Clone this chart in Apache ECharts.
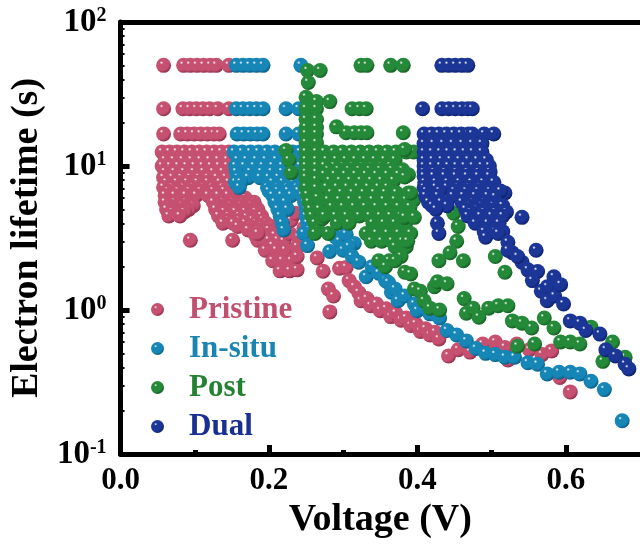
<!DOCTYPE html>
<html>
<head>
<meta charset="utf-8">
<script src="https://cdn.jsdelivr.net/npm/echarts@6/dist/echarts.min.js"></script>
<style>
  html, body { margin: 0; padding: 0; background: #ffffff; }
  #chart { width: 640px; height: 544px; }
</style>
</head>
<body>
<div id="chart"></div>
<script>
// Electron lifetime (s) versus voltage (V) for four device types.
const seriesNames = ['Pristine', 'In-situ', 'Post', 'Dual'];

const pristine = [
  [0.058,50],[0.085,50],[0.094,50],[0.103,50],[0.112,50],[0.121,50],[0.129,50],[0.146,50],
  [0.058,25],[0.084,25],[0.093,25],[0.102,25],[0.111,25],[0.120,25],[0.131,25],[0.146,25],
  [0.058,16.7],[0.081,16.7],[0.090,16.7],[0.099,16.7],[0.108,16.7],[0.117,16.7],[0.126,16.7],[0.133,16.7],
  [0.056,12.5],[0.066,12.5],[0.076,12.5],[0.086,12.5],[0.096,12.5],[0.106,12.5],[0.116,12.5],[0.126,12.5],[0.136,12.5],[0.146,12.5],
  [0.060,11],[0.072,11],[0.084,11],[0.096,11],[0.108,11],[0.120,11],[0.132,11],[0.144,11],
  [0.056,10],[0.067,10],[0.078,10],[0.089,10],[0.100,10],[0.111,10],[0.122,10],[0.133,10],[0.144,10],
  [0.060,9.1],[0.073,9.1],[0.086,9.1],[0.099,9.1],[0.112,9.1],[0.125,9.1],[0.138,9.1],
  [0.058,8.3],[0.070,8.3],[0.082,8.3],[0.094,8.3],[0.106,8.3],[0.118,8.3],[0.130,8.3],[0.142,8.3],
  [0.062,7.7],[0.076,7.7],[0.090,7.7],[0.104,7.7],[0.118,7.7],[0.134,7.7],[0.146,7.7],
  [0.058,7.1],[0.070,7.1],[0.085,7.1],[0.098,7.1],[0.112,7.1],[0.124,7.1],[0.138,7.1],[0.150,7.1],
  [0.064,6.7],[0.078,6.7],[0.093,6.7],[0.108,6.7],[0.125,6.7],[0.140,6.7],[0.155,6.7],
  [0.060,6.25],[0.073,6.25],[0.088,6.25],[0.102,6.25],[0.118,6.25],[0.132,6.25],[0.145,6.25],[0.168,6.0],
  [0.060,5.6],[0.073,5.6],[0.088,5.6],[0.125,5.6],[0.138,5.6],[0.152,5.6],[0.165,5.6],[0.180,5.6],[0.170,5.3],
  [0.066,5.3],[0.082,5.3],[0.098,5.3],[0.132,5.3],[0.148,5.3],[0.162,5.3],[0.176,5.3],
  [0.062,5.0],[0.076,5.0],[0.092,5.0],[0.128,5.0],[0.142,5.0],[0.156,5.0],[0.170,5.0],[0.185,5.0],
  [0.070,4.8],[0.086,4.8],[0.140,4.8],[0.155,4.8],[0.168,4.8],[0.182,4.8],
  [0.065,4.5],[0.080,4.5],[0.132,4.5],[0.146,4.5],[0.160,4.5],[0.175,4.5],[0.190,4.5],[0.170,4.4],
  [0.145,4.2],[0.160,4.2],[0.178,4.2],[0.192,4.2],
  [0.138,4.0],[0.152,4.0],[0.168,4.0],[0.182,4.0],[0.196,4.0],
  [0.158,3.8],[0.175,3.8],[0.190,3.8],[0.204,3.8],
  [0.172,3.6],[0.186,3.6],[0.200,3.6],
  [0.182,3.3],[0.196,3.3],[0.208,3.3],
  [0.094,3.05],[0.151,3.05],[0.185,3.05],[0.200,3.05],[0.212,3.05],
  [0.185,3.4],[0.205,2.8],[0.215,2.4],[0.225,2.05],[0.232,2.5],[0.220,3.0],[0.228,3.4],[0.240,3.2],[0.245,2.9],[0.234,1.95],
  [0.195,2.6],[0.210,2.6],[0.222,2.6],
  [0.205,2.2],[0.218,2.2],[0.230,2.2],
  [0.215,1.87],[0.228,1.87],[0.238,1.9],
  [0.230,4.2],[0.236,4.7],[0.247,3.7],[0.238,2.75],[0.238,2.35],
  [0.265,2.3],[0.273,1.86],[0.280,1.40],[0.287,1.25],[0.282,0.97],
  [0.295,1.95],[0.304,1.97],[0.308,1.6],[0.315,1.45],[0.321,1.32],[0.324,1.16],[0.332,1.2],
  [0.337,1.07],[0.345,1.1],[0.350,0.99],[0.358,1.02],[0.364,0.9],[0.371,0.95],[0.378,0.85],
  [0.385,0.88],[0.391,0.78],[0.398,0.8],[0.404,0.71],[0.411,0.74],[0.417,0.67],[0.424,0.7],[0.429,0.63],
  [0.442,0.48],[0.455,0.53],[0.471,0.51],[0.488,0.58],[0.505,0.60],[0.518,0.55],[0.522,0.45],
  [0.534,0.58],[0.551,0.53],[0.568,0.49],[0.581,0.52],[0.592,0.34],[0.606,0.27]
];

const inSitu = [
  [0.156,50],[0.165,50],[0.174,50],[0.183,50],[0.192,50],[0.243,50],
  [0.156,25],[0.165,25],[0.174,25],[0.183,25],[0.192,25],[0.223,25],[0.240,25],
  [0.157,16.7],[0.166,16.7],[0.175,16.7],[0.184,16.7],[0.192,16.7],[0.223,16.7],[0.240,16.7],
  [0.153,12.5],[0.164,12.5],[0.175,12.5],[0.186,12.5],[0.197,12.5],[0.208,12.5],[0.220,12.5],[0.232,12.5],[0.242,12.5],
  [0.158,11],[0.170,11],[0.183,11],[0.196,11],[0.210,11],[0.224,11],[0.237,11],
  [0.155,10],[0.167,10],[0.180,10],[0.192,10],[0.205,10],[0.218,10],[0.230,10],[0.242,10],
  [0.156,9.1],[0.175,9.1],[0.190,9.1],[0.204,9.1],[0.218,9.1],[0.232,9.1],[0.245,9.1],
  [0.158,8.3],[0.172,8.3],[0.188,8.3],[0.200,8.3],[0.213,8.3],[0.226,8.3],[0.240,8.3],
  [0.155,7.7],[0.162,7.7],[0.205,7.7],[0.219,7.7],[0.233,7.7],[0.246,7.7],
  [0.160,7.1],[0.198,7.1],[0.212,7.1],[0.225,7.1],[0.238,7.1],
  [0.200,6.7],[0.212,6.7],[0.226,6.7],[0.240,6.7],
  [0.205,6.25],[0.217,6.25],[0.230,6.25],[0.245,6.25],
  [0.208,5.6],[0.222,5.6],[0.248,5.6],
  [0.212,5.0],[0.225,5.0],[0.250,5.0],
  [0.215,4.5],[0.250,4.5],
  [0.218,4.0],[0.252,4.0],
  [0.220,3.6],[0.254,3.6],
  [0.247,3.4],[0.252,2.8],[0.282,2.55],[0.290,3.2],[0.295,3.0],[0.300,2.6],[0.304,3.35],[0.315,2.9],
  [0.308,2.75],[0.312,2.35],[0.321,2.15],[0.331,1.7],[0.339,2.0],[0.348,1.8],[0.357,1.6],[0.361,1.55],
  [0.365,1.33],[0.370,1.4],[0.374,1.16],[0.383,1.25],[0.396,1.1],[0.400,0.99],[0.409,1.03],
  [0.417,0.94],[0.423,0.94],[0.430,0.88],[0.440,0.72],[0.453,0.67],[0.466,0.61],[0.479,0.54],
  [0.492,0.50],[0.505,0.49],[0.518,0.47],[0.531,0.47],[0.549,0.43],[0.562,0.42],[0.575,0.36],
  [0.591,0.37],[0.606,0.37],[0.619,0.36],[0.634,0.32],[0.652,0.28],[0.676,0.17]
];

const post = [
  [0.252,46],[0.269,46],[0.253,38],[0.324,50],[0.332,50],[0.364,50],[0.381,50],
  [0.250,30],[0.264,28],[0.250,25],[0.264,25],[0.250,21],[0.264,21],[0.250,18.5],[0.264,18.5],
  [0.250,16.7],[0.264,16.7],[0.250,14.5],[0.264,14.5],[0.250,12.5],[0.264,12.5],[0.250,11],
  [0.250,10],[0.250,9],[0.250,8.3],[0.250,7.1],[0.252,6.3],[0.254,5.6],[0.256,5.0],[0.258,4.5],
  [0.262,4.0],[0.266,3.6],
  [0.264,11],[0.264,10],[0.264,9],[0.264,8],[0.264,7],[0.266,6],[0.268,5],[0.272,4.3],
  [0.282,28],[0.312,25],[0.322,25],[0.331,25],[0.291,18.7],[0.304,17],[0.315,17],[0.324,17],[0.332,17],[0.381,17],
  [0.223,12.8],[0.227,11],[0.230,9],
  [0.275,12.5],[0.287,12.5],[0.299,12.5],[0.311,12.5],[0.323,12.5],[0.335,12.5],[0.347,12.5],[0.359,12.5],[0.371,12.5],[0.385,12.5],[0.395,12.5],
  [0.278,11],[0.291,11],[0.304,11],[0.317,11],[0.330,11],[0.343,11],[0.356,11],[0.370,11],
  [0.275,10],[0.288,10],[0.300,10],[0.313,10],[0.326,10],[0.339,10],[0.352,10],[0.364,10],
  [0.280,9.4],[0.294,9.4],[0.308,9.4],[0.322,9.4],[0.336,9.4],[0.350,9.4],[0.366,9.4],[0.380,9.4],
  [0.275,8.7],[0.289,8.7],[0.303,8.7],[0.317,8.7],[0.331,8.7],[0.345,8.7],[0.360,8.7],[0.375,8.7],[0.388,8.7],
  [0.282,7.9],[0.296,7.9],[0.310,7.9],[0.324,7.9],[0.338,7.9],[0.352,7.9],[0.368,7.9],
  [0.278,7.1],[0.292,7.1],[0.306,7.1],[0.320,7.1],[0.334,7.1],[0.348,7.1],[0.360,7.1],
  [0.284,6.5],[0.298,6.5],[0.313,6.5],[0.328,6.5],[0.342,6.5],[0.357,6.5],[0.372,6.5],[0.388,6.5],
  [0.280,5.8],[0.295,5.8],[0.310,5.8],[0.325,5.8],[0.340,5.8],[0.355,5.8],[0.370,5.8],[0.385,5.8],[0.395,5.8],
  [0.285,5.2],[0.300,5.2],[0.315,5.2],[0.330,5.2],[0.345,5.2],[0.360,5.2],[0.375,5.2],[0.390,5.2],
  [0.275,4.5],[0.290,4.5],[0.305,4.5],[0.322,4.5],[0.336,4.5],[0.350,4.5],[0.364,4.5],[0.378,4.5],[0.392,4.5],
  [0.292,4.0],[0.308,4.0],[0.340,4.0],[0.355,4.0],[0.370,4.0],[0.384,4.0],
  [0.262,3.4],[0.280,3.4],[0.331,3.4],[0.345,3.4],[0.360,3.4],[0.375,3.4],[0.390,3.4],
  [0.338,3.0],[0.352,3.0],[0.366,3.0],[0.380,3.0],
  [0.370,2.75],[0.385,2.75],[0.348,2.2],[0.362,2.2],
  [0.383,13],[0.383,8.4],[0.391,6.5],[0.383,4.4],[0.396,4.4],[0.391,3.4],[0.387,3.0],[0.378,2.35],
  [0.449,4.7],[0.455,3.8],[0.453,3.0],[0.444,2.5],[0.429,2.2],[0.462,2.2],[0.505,2.35],[0.518,1.83],
  [0.357,2.0],[0.370,2.2],[0.383,1.83],[0.391,1.78],[0.396,1.4],[0.404,1.35],[0.409,1.16],[0.417,1.03],
  [0.423,1.45],[0.430,1.0],[0.427,1.57],[0.440,1.52],[0.463,1.2],[0.466,0.95],[0.475,1.03],[0.483,0.89],
  [0.496,1.03],[0.509,1.07],[0.522,1.07],[0.528,0.84],[0.541,0.81],[0.554,0.75],[0.535,0.56],[0.558,0.58],
  [0.571,0.88],[0.584,0.75],[0.593,0.6],[0.606,0.6],[0.619,0.58],[0.634,0.76],[0.650,0.44],[0.663,0.6],[0.680,0.47]
];

const dual = [
  [0.433,50],[0.442,50],[0.451,50],[0.460,50],[0.468,50],
  [0.407,25],[0.433,25],[0.442,25],[0.451,25],[0.460,25],[0.468,25],[0.474,25],
  [0.409,16.7],[0.419,16.7],[0.429,16.7],[0.439,16.7],[0.449,16.7],[0.459,16.7],[0.469,16.7],[0.474,16.7],[0.490,16.7],[0.503,16.7],
  [0.409,14.3],[0.422,14.3],[0.435,14.3],[0.448,14.3],[0.461,14.3],[0.474,14.3],[0.487,14.3],
  [0.409,12.5],[0.420,12.5],[0.431,12.5],[0.442,12.5],[0.453,12.5],[0.464,12.5],[0.475,12.5],[0.487,12.5],
  [0.409,11],[0.421,11],[0.433,11],[0.445,11],[0.457,11],[0.469,11],[0.481,11],[0.493,11],
  [0.409,10],[0.420,10],[0.431,10],[0.442,10],[0.453,10],[0.464,10],[0.475,10],[0.487,10],[0.497,10],
  [0.409,9.1],[0.423,9.1],[0.438,9.1],[0.453,9.1],[0.468,9.1],[0.483,9.1],[0.498,9.1],
  [0.409,8.5],[0.422,8.5],[0.437,8.5],[0.452,8.5],[0.467,8.5],[0.482,8.5],[0.497,8.5],
  [0.410,7.7],[0.425,7.7],[0.441,7.7],[0.457,7.7],[0.473,7.7],[0.489,7.7],[0.503,7.7],
  [0.409,7.1],[0.425,7.1],[0.440,7.1],[0.455,7.1],[0.470,7.1],[0.485,7.1],[0.518,6.5],
  [0.412,6.7],[0.430,6.7],[0.450,6.7],[0.466,6.7],[0.482,6.7],[0.498,6.7],[0.512,6.7],
  [0.411,6.2],[0.428,6.2],[0.448,6.2],[0.462,6.2],[0.478,6.2],[0.495,6.2],[0.505,6.1],
  [0.415,5.6],[0.432,5.6],[0.460,5.6],[0.475,5.6],[0.490,5.6],[0.509,5.3],
  [0.420,5.3],[0.440,5.3],[0.470,5.3],[0.486,5.3],[0.502,5.3],[0.515,5.3],
  [0.425,5.0],[0.465,5.0],[0.480,5.0],[0.495,5.0],
  [0.472,4.8],[0.490,4.8],[0.505,4.8],[0.520,4.8],
  [0.468,4.5],[0.485,4.5],[0.500,4.5],[0.515,4.5],[0.541,4.4],
  [0.427,4.0],[0.429,3.4],[0.478,4.0],[0.495,4.0],[0.510,4.0],[0.490,3.5],[0.505,3.5],[0.515,3.5],
  [0.492,3.2],[0.509,3.4],[0.522,2.95],[0.528,2.5],[0.541,2.15],[0.560,2.6],[0.549,1.9],[0.562,1.85],
  [0.584,1.7],[0.522,2.6],[0.535,2.35],[0.555,1.6],[0.567,1.35],[0.575,1.45],[0.575,1.16],[0.585,1.25],
  [0.593,1.5],[0.597,1.1],[0.606,0.84],[0.619,0.81],[0.627,0.72],[0.646,0.68],[0.654,0.53],
  [0.667,0.48],[0.680,0.42],[0.685,0.39]
];

const xTickValues = [0, 0.2, 0.4, 0.6];
const xMinorTickValues = [0.1, 0.3, 0.5];
const yMinorTickValues = [
  0.2, 0.3, 0.4, 0.5, 0.6, 0.7, 0.8, 0.9,
  2, 3, 4, 5, 6, 7, 8, 9,
  20, 30, 40, 50, 60, 70, 80, 90
];

const ballColors = [
  ['#c6506f', '#8a2c49'],
  ['#1686b6', '#0b587e'],
  ['#25893a', '#125a1f'],
  ['#1b3697', '#0b1d63']
];
const legendTextColors = ['#c0506e', '#1a85b0', '#238232', '#1a3090'];

const FONT = "'Liberation Serif', 'Times New Roman', serif";

function ball(base, dark) {
  return new echarts.graphic.RadialGradient(0.36, 0.32, 0.72, [
    { offset: 0, color: '#ffffff' },
    { offset: 0.16, color: base },
    { offset: 0.7, color: base },
    { offset: 1, color: dark }
  ]);
}

const dataSets = [pristine, inSitu, post, dual];

const chart = echarts.init(document.getElementById('chart'), null, { renderer: 'canvas' });

chart.setOption({
  animation: false,
  backgroundColor: '#ffffff',
  grid: { left: 115, top: 22, right: -8, bottom: 90, containLabel: false },
  legend: {
    orient: 'vertical',
    left: 146,
    top: 288,
    icon: 'circle',
    itemWidth: 13,
    itemHeight: 13,
    itemGap: 6,
    data: seriesNames.map((n, i) => ({ name: n, textStyle: { color: legendTextColors[i] } })),
    textStyle: {
      fontFamily: FONT, fontWeight: 'bold', fontSize: 31, lineHeight: 33,
      padding: [0, 0, 0, 20]
    }
  },
  xAxis: [
    {
      type: 'value', min: 0, max: 0.7, interval: 0.2,
      position: 'bottom',
      axisLine: { show: true, onZero: false, lineStyle: { color: '#000', width: 5 } },
      axisTick: { show: true, inside: true, length: 9, customValues: xTickValues, lineStyle: { color: '#000', width: 5 } },
      axisLabel: {
        customValues: xTickValues, margin: 11,
        fontFamily: FONT, fontWeight: 'bold', fontSize: 31, color: '#000',
        formatter: v => v.toFixed(1)
      },
      splitLine: { show: false },
      name: 'Voltage (V)', nameLocation: 'middle', nameGap: 44,
      nameTextStyle: { fontFamily: FONT, fontWeight: 'bold', fontSize: 38, color: '#000' }
    },
    {
      type: 'value', min: 0, max: 0.7, position: 'top',
      axisLine: { show: true, onZero: false, lineStyle: { color: '#000', width: 5 } },
      axisTick: { show: false }, axisLabel: { show: false }, splitLine: { show: false }
    },
    {
      type: 'value', min: 0, max: 0.7, position: 'bottom',
      axisLine: { show: false, onZero: false },
      axisTick: { show: true, inside: true, length: 4, customValues: xMinorTickValues, lineStyle: { color: '#000', width: 5 } },
      axisLabel: { show: false }, splitLine: { show: false }
    }
  ],
  yAxis: [
    {
      type: 'log', logBase: 10, min: 0.1, max: 100,
      position: 'left',
      axisLine: { show: true, onZero: false, lineStyle: { color: '#000', width: 5 } },
      axisTick: { show: true, inside: true, length: 9, lineStyle: { color: '#000', width: 5 } },
      axisLabel: {
        margin: 14,
        formatter: v => '{b|10}{s|' + Math.round(Math.log10(v)) + '}',
        rich: {
          b: { fontFamily: FONT, fontWeight: 'bold', fontSize: 33, lineHeight: 33, color: '#000' },
          s: { fontFamily: FONT, fontWeight: 'bold', fontSize: 20, lineHeight: 20, color: '#000', verticalAlign: 'top' }
        }
      },
      splitLine: { show: false },
      name: 'Electron lifetime (s)', nameLocation: 'middle', nameGap: 65, nameRotate: 90,
      nameTextStyle: { fontFamily: FONT, fontWeight: 'bold', fontSize: 38, color: '#000' }
    },
    {
      type: 'log', logBase: 10, min: 0.1, max: 100,
      position: 'left',
      axisLine: { show: false, onZero: false },
      axisTick: { show: true, inside: true, length: 4, customValues: yMinorTickValues, lineStyle: { color: '#000', width: 2 } },
      axisLabel: { show: false }, splitLine: { show: false }
    }
  ],
  series: dataSets.map((d, i) => ({
    name: seriesNames[i],
    type: 'scatter',
    xAxisIndex: 0,
    yAxisIndex: 0,
    symbol: 'circle',
    symbolSize: 15,
    data: d,
    itemStyle: { color: ball(ballColors[i][0], ballColors[i][1]), opacity: 1 },
    emphasis: { disabled: true }
  }))
});
</script>
</body>
</html>
